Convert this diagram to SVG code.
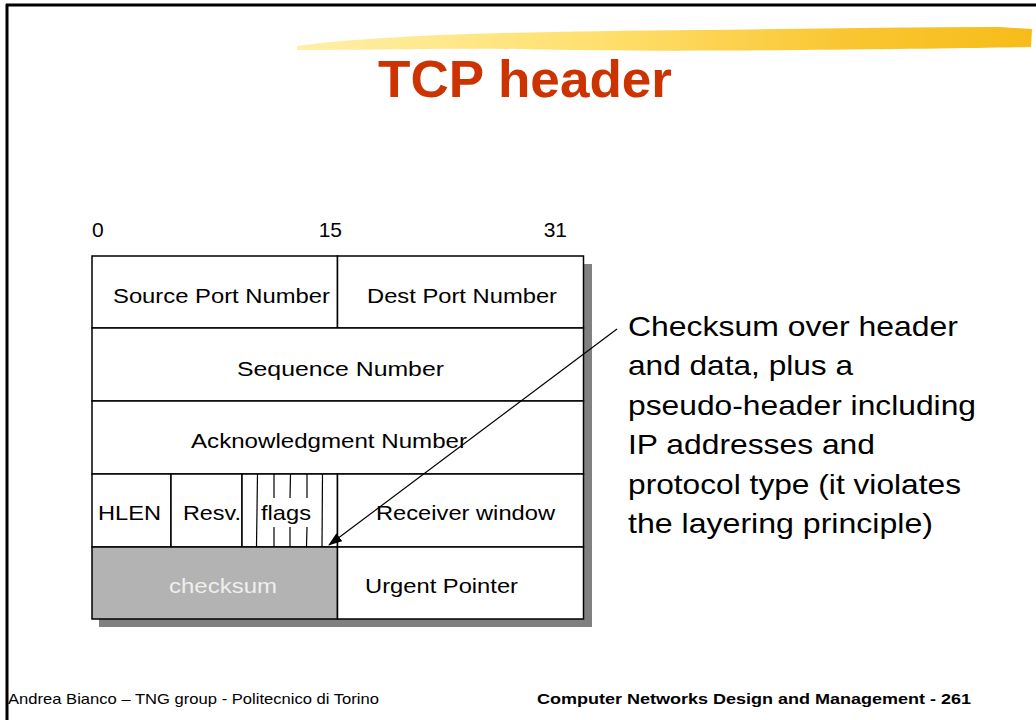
<svg xmlns="http://www.w3.org/2000/svg" width="1036" height="720" viewBox="0 0 1036 720">
<style>
.t{font-family:"Liberation Sans",Arial,sans-serif;fill:#000}
.f{font-size:21px}
.r{font-size:28px}
.cell{fill:#fff;stroke:#000;stroke-width:1.5}
.ln{stroke:#000;stroke-width:1.2}
</style>
<defs>
<linearGradient id="brush" x1="0" y1="0" x2="1" y2="0">
<stop offset="0" stop-color="#fff0a8"/>
<stop offset="0.4" stop-color="#ffe070"/>
<stop offset="0.75" stop-color="#f9c631"/>
<stop offset="1" stop-color="#f7bc1a"/>
</linearGradient>
<marker id="ah" markerWidth="14" markerHeight="10" refX="13" refY="5" orient="auto" markerUnits="userSpaceOnUse">
<path d="M0,0 L14,5 L0,10 Z" fill="#000"/>
</marker>
</defs>
<rect width="1036" height="720" fill="#fff"/>
<g id="frame">
<line x1="6" y1="5" x2="1036" y2="5" stroke="#000" stroke-width="3"/>
<line x1="7" y1="4" x2="7" y2="720" stroke="#000" stroke-width="3"/>
</g>
<g id="brushstroke">
<path d="M297,46 C340,40 380,38 440,35 C520,32 600,31 700,30 C800,29 900,27 1000,27 L1032,29 L1031,47 C980,48 900,49 800,50 C700,51 600,51 520,49 C440,48 360,50 297,50 Z" fill="url(#brush)"/>
</g>
<g id="title">
<text class="t" x="525" y="97" text-anchor="middle" font-size="52" font-weight="bold" style="fill:#cc3300" textLength="294" lengthAdjust="spacingAndGlyphs">TCP header</text>
</g>
<g id="bit-labels">
<text class="t f" x="92" y="237">0</text>
<text class="t f" x="342" y="237" text-anchor="end">15</text>
<text class="t f" x="567" y="237" text-anchor="end">31</text>
</g>
<rect id="shadow" x="99" y="264" width="493" height="363" fill="#808080"/>
<g id="source-port">
<rect class="cell" x="92" y="256" width="245.5" height="72"/>
<text class="t f" x="113" y="303" textLength="217" lengthAdjust="spacingAndGlyphs">Source Port Number</text>
</g>
<g id="dest-port">
<rect class="cell" x="337.5" y="256" width="246" height="72"/>
<text class="t f" x="367" y="303" textLength="190" lengthAdjust="spacingAndGlyphs">Dest Port Number</text>
</g>
<g id="sequence-number">
<rect class="cell" x="92" y="328" width="491.5" height="73"/>
<text class="t f" x="237" y="376" textLength="207" lengthAdjust="spacingAndGlyphs">Sequence Number</text>
</g>
<g id="ack-number">
<rect class="cell" x="92" y="401" width="491.5" height="73"/>
<text class="t f" x="191" y="448" textLength="276" lengthAdjust="spacingAndGlyphs">Acknowledgment Number</text>
</g>
<g id="hlen">
<rect class="cell" x="92" y="474" width="79" height="73"/>
<text class="t f" x="98" y="520" textLength="63" lengthAdjust="spacingAndGlyphs">HLEN</text>
</g>
<g id="resv">
<rect class="cell" x="171" y="474" width="71" height="73"/>
<text class="t f" x="183" y="520" textLength="58" lengthAdjust="spacingAndGlyphs">Resv.</text>
</g>
<g id="flags">
<rect class="cell" x="242" y="474" width="95.5" height="73"/>
<line class="ln" x1="257.5" y1="474" x2="256.5" y2="547"/>
<line class="ln" x1="274" y1="474" x2="274" y2="498"/>
<line class="ln" x1="274" y1="527" x2="274" y2="547"/>
<line class="ln" x1="290.5" y1="474" x2="290" y2="498"/>
<line class="ln" x1="290" y1="527" x2="290" y2="547"/>
<line class="ln" x1="307" y1="474" x2="307" y2="498"/>
<line class="ln" x1="307" y1="527" x2="306.5" y2="547"/>
<line class="ln" x1="322.5" y1="474" x2="322" y2="547"/>
<text class="t f" x="261" y="520" textLength="50" lengthAdjust="spacingAndGlyphs">flags</text>
</g>
<g id="receiver-window">
<rect class="cell" x="337.5" y="474" width="246" height="73"/>
<text class="t f" x="376" y="520" textLength="179" lengthAdjust="spacingAndGlyphs">Receiver window</text>
</g>
<g id="checksum">
<rect class="cell" x="92" y="547" width="245.5" height="72" style="fill:#b3b3b3"/>
<text class="t f" x="169" y="593" textLength="108" lengthAdjust="spacingAndGlyphs" style="fill:#efefef">checksum</text>
</g>
<g id="urgent-pointer">
<rect class="cell" x="337.5" y="547" width="246" height="72"/>
<text class="t f" x="365" y="593" textLength="153" lengthAdjust="spacingAndGlyphs">Urgent Pointer</text>
</g>
<g id="connectors">
<line x1="617" y1="329" x2="329" y2="545" stroke="#000" stroke-width="1.2" marker-end="url(#ah)"/>
</g>
<g id="note">
<text class="t r" x="628" y="336" textLength="330" lengthAdjust="spacingAndGlyphs">Checksum over header</text>
<text class="t r" x="628" y="375" textLength="225" lengthAdjust="spacingAndGlyphs">and data, plus a</text>
<text class="t r" x="628" y="415" textLength="348" lengthAdjust="spacingAndGlyphs">pseudo-header including</text>
<text class="t r" x="628" y="454" textLength="247" lengthAdjust="spacingAndGlyphs">IP addresses and</text>
<text class="t r" x="628" y="494" textLength="333" lengthAdjust="spacingAndGlyphs">protocol type (it violates</text>
<text class="t r" x="628" y="533" textLength="305" lengthAdjust="spacingAndGlyphs">the layering principle)</text>
</g>
<g id="footer">
<text class="t" x="8" y="704" font-size="15" textLength="371" lengthAdjust="spacingAndGlyphs">Andrea Bianco – TNG group - Politecnico di Torino</text>
<text class="t" x="537" y="704" font-size="15" font-weight="bold" textLength="434" lengthAdjust="spacingAndGlyphs">Computer Networks Design and Management - 261</text>
</g>
</svg>
